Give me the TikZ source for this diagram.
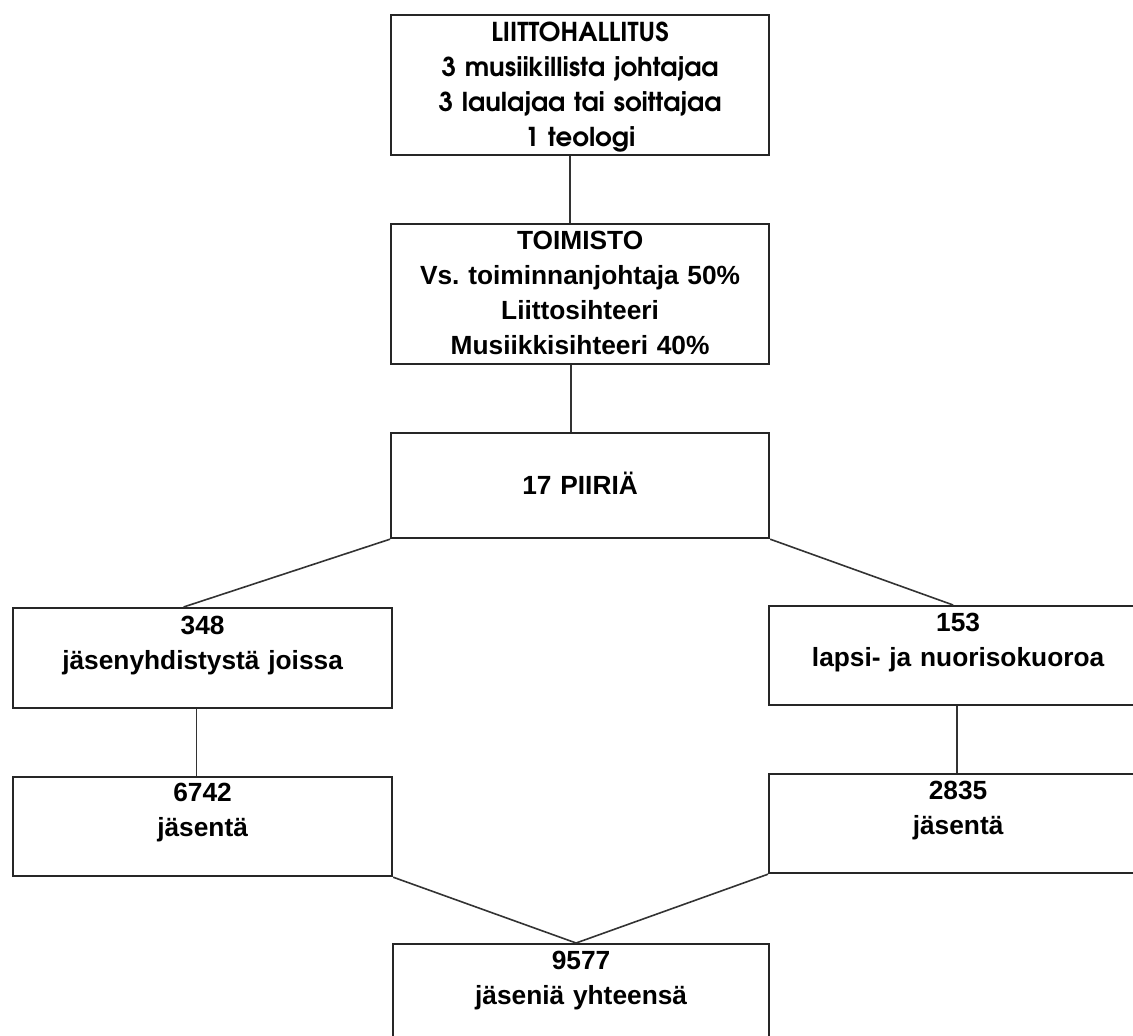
\documentclass[tikz,border=0pt]{standalone}
\usepackage{fontspec}
\setmainfont{Liberation Sans}
\newfontfamily\gothicfont{texgyreadventor}[Extension=.otf, UprightFont=*-regular, BoldFont=*-bold]
\frenchspacing
\tikzset{
    box/.style={draw=black!85, line width=2.2pt, inner sep=0pt, anchor=north west, align=center, text width=378pt,
        font=\fontsize{26.3}{35}\selectfont\bfseries},
    link/.style={draw=black!80, line width=1.6pt}
}
\begin{document}
\begin{tikzpicture}[x=1pt, y=-1pt]
            \clip (0,0) rectangle (1133,1036);
            % middle column
            \node [box, text height=26pt, text depth=114pt, font=\gothicfont\fontsize{26}{35}\selectfont\bfseries] (hallitus) at (390,14)
                {LIITTOHALLITUS\\3 musiikillista johtajaa\\3 laulajaa tai soittajaa\\1 teologi};
            \node [box, text height=25pt, text depth=115pt] (toimisto) at (390,223)
                {TOIMISTO\\Vs. toiminnanjohtaja 50\%\\Liittosihteeri\\Musiikkisihteeri 40\%};
            \node [box, text height=61pt, text depth=44pt] (piirit) at (390,432) {17 PIIRIÄ};
            % left and right branches
            \node [box, text height=26pt, text depth=74pt, text width=379pt] (yhdistykset) at (12,607) {348\\jäsenyhdistystä joissa};
            \node [box, text height=25pt, text depth=74pt] (kuorot) at (768,605) {153\\lapsi- ja nuorisokuoroa};
            \node [box, text height=24pt, text depth=75pt, text width=379pt] (jasenetL) at (12,776) {6742\\jäsentä};
            \node [box, text height=25pt, text depth=74pt] (jasenetR) at (768,773) {2835\\jäsentä};
            \node [box, text height=25pt, text depth=75pt, text width=376pt] (yhteensa) at (392,943) {9577\\jäseniä yhteensä};
            % connectors
            \draw [link] ([xshift=-10pt]hallitus.south) -- ([xshift=-10pt]toimisto.north);
            \draw [link] ([xshift=-9pt]toimisto.south) -- ([xshift=-9pt]piirit.north);
            \draw [link] (piirit.south west) -- ([xshift=-19pt]yhdistykset.north);
            \draw [link] (piirit.south east) -- ([xshift=-5pt]kuorot.north);
            \draw [link] ([xshift=-6pt]yhdistykset.south) -- ([xshift=-6pt]jasenetL.north);
            \draw [link] ([xshift=-1pt]kuorot.south) -- ([xshift=-1pt]jasenetR.north);
            \draw [link] (jasenetL.south east) -- ([xshift=-5pt]yhteensa.north);
            \draw [link] (jasenetR.south west) -- ([xshift=-5pt]yhteensa.north);
\end{tikzpicture}
\end{document}
